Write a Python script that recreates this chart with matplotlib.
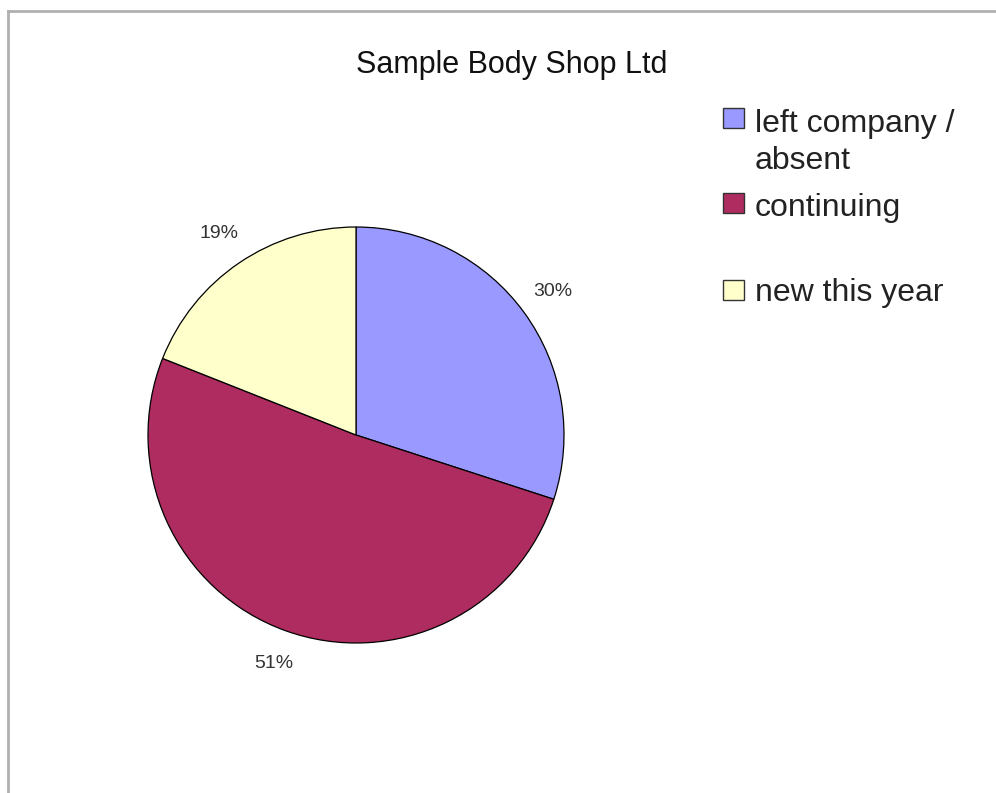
import matplotlib.pyplot as plt
from matplotlib.patches import Rectangle
from matplotlib.lines import Line2D

# data
labels = ["left company /\nabsent", "continuing", "new this year"]
values = [30, 51, 19]
colors = ["#9999FF", "#AE2C5F", "#FFFFCC"]

plt.rcParams['font.family'] = ['Liberation Sans', 'DejaVu Sans']

W, H = 996, 793
fig = plt.figure(figsize=(W / 100, H / 100), dpi=100)

# chart border (left and top edges visible in the crop)
fig.add_artist(Line2D([8 / W, 8 / W], [0, 1 - 11 / H], color="#b0b0b0", lw=2))
fig.add_artist(Line2D([8 / W, 1], [1 - 11 / H, 1 - 11 / H], color="#b0b0b0", lw=2))

# pie axes: center (356, 435) px, radius 208 px
cx, cy, r = 356, 435, 208
ax = fig.add_axes([(cx - r) / W, 1 - (cy + r) / H, 2 * r / W, 2 * r / H])
ax.pie(values, colors=colors, startangle=90, counterclock=False,
       autopct="%1.0f%%", pctdistance=1.17,
       wedgeprops=dict(edgecolor="black", linewidth=0.9),
       textprops=dict(fontsize=14, color="#333333"))
ax.set_xlim(-1, 1)
ax.set_ylim(-1, 1)
ax.set_aspect("equal")

fig.text(512 / W, 1 - 73 / H, "Sample Body Shop Ltd", ha="center", va="baseline",
         fontsize=22, color="#111111")

# legend drawn by hand to match the row layout
# (baseline of the last line of each label)
patch_rows = [118, 203, 290]
text_rows = [169, 216, 301]
for lab, col, py, ty in zip(labels, colors, patch_rows, text_rows):
    fig.add_artist(Rectangle((723 / W, 1 - (py + 10) / H), 21 / W, 20 / H,
                             facecolor=col, edgecolor="#333333", lw=1))
    fig.text(755 / W, 1 - ty / H, lab, ha="left", va="baseline",
             fontsize=23, color="#222222", linespacing=1.32)

fig.savefig("out.png", dpi=100)
